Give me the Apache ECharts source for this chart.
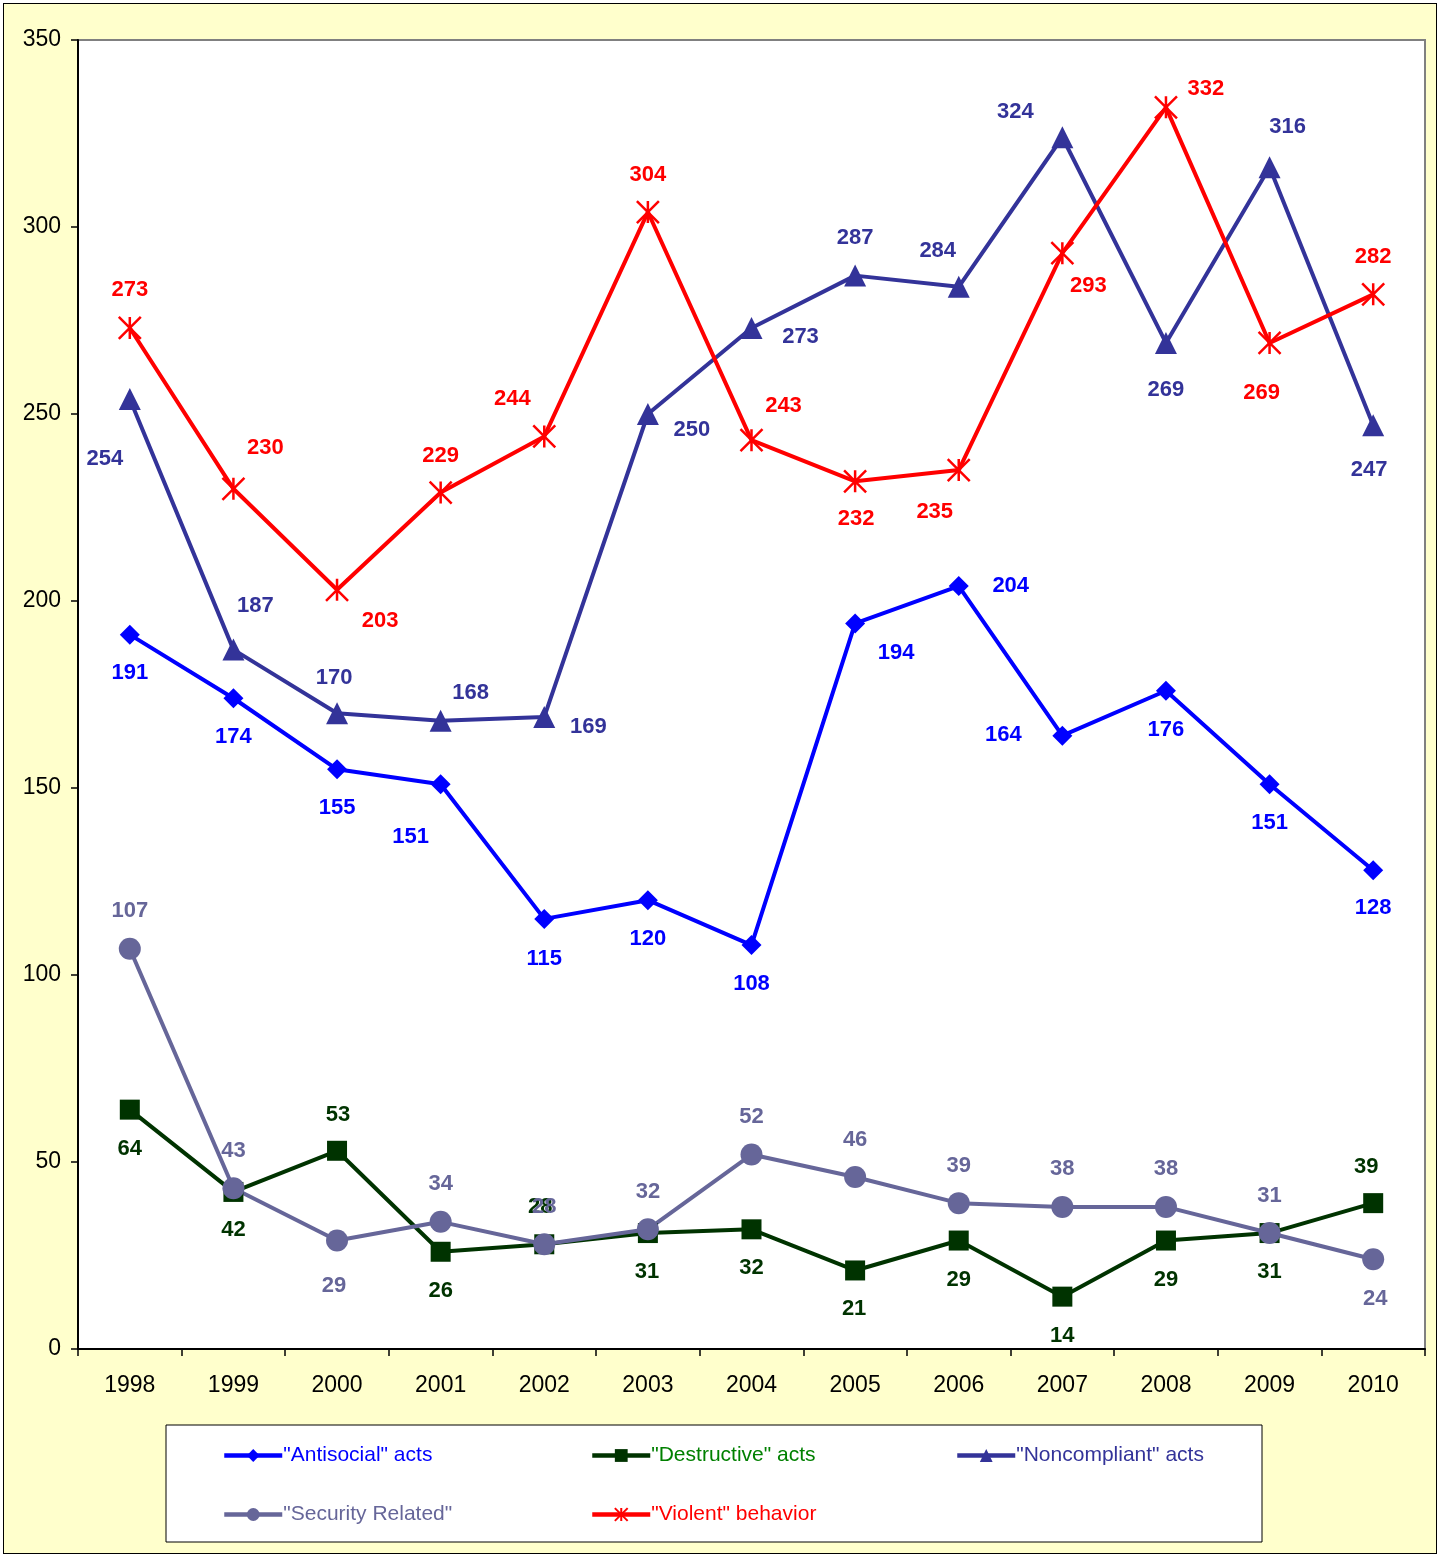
<!DOCTYPE html>
<html>
<head>
<meta charset="utf-8">
<script src="https://cdn.jsdelivr.net/npm/echarts@6/dist/echarts.min.js"></script>
<style>
  html, body { margin: 0; padding: 0; background: #fff; }
  #wrap { position: relative; width: 1442px; height: 1555px; }
  #frame { position: absolute; left: 3px; top: 3px; width: 1432px; height: 1549px; background: #FFFFCC; border: 1px solid #000; }
  #chart { position: absolute; left: 0; top: 0; width: 1442px; height: 1555px; }
</style>
</head>
<body>
<div id="wrap">
  <div id="frame"></div>
  <div id="chart"></div>
</div>
<script>
const years = ['1998', '1999', '2000', '2001', '2002', '2003', '2004', '2005', '2006', '2007', '2008', '2009', '2010'];
const antisocial = [191, 174, 155, 151, 115, 120, 108, 194, 204, 164, 176, 151, 128];
const destructive = [64, 42, 53, 26, 28, 31, 32, 21, 29, 14, 29, 31, 39];
const noncompliant = [254, 187, 170, 168, 169, 250, 273, 287, 284, 324, 269, 316, 247];
const security = [107, 43, 29, 34, 28, 32, 52, 46, 39, 38, 38, 31, 24];
const violent = [273, 230, 203, 229, 244, 304, 243, 232, 235, 293, 332, 269, 282];

// where each value label sits relative to its point (px)
const antisocialOff = [[0,38],[0,39],[0,39],[-30,53],[0,40],[0,39],[0,39],[41,29],[52,0],[-59,-1],[0,39],[0,39],[0,38]];
const destructiveOff = [[0,39],[0,38],[1,-36],[0,39],[-4,-37],[-1,39],[0,39],[-1,38],[0,39],[0,39],[0,39],[0,39],[-7,-36]];
const noncompliantOff = [[-25,60],[22,-44],[-3,-35],[30,-28],[44,10],[44,16],[49,9],[0,-38],[-21,-36],[-47,-25],[0,47],[18,-40],[-4,45]];
const securityOff = [[0,-38],[0,-37],[-3,45],[0,-38],[0,-37],[0,-37],[0,-38],[0,-37],[0,-37],[0,-38],[0,-38],[0,-37],[2,40]];
const violentOff = [[0,-38],[32,-41],[43,31],[0,-37],[-32,-38],[0,-37],[32,-34],[1,38],[-24,42],[26,33],[40,-18],[-8,50],[0,-37]];

const font = '"Liberation Sans", Arial, sans-serif';

const withLabels = (values, offsets) => values.map((v, i) => ({ value: v, label: { offset: offsets[i] } }));

const makeSeries = (name, values, offsets, color, symbol, symbolSize, extra = {}) => ({
  name,
  type: 'line',
  data: withLabels(values, offsets),
  symbol,
  symbolSize,
  lineStyle: { color, width: 4 },
  itemStyle: { color },
  label: {
    show: true,
    position: 'inside',
    color,
    fontFamily: font,
    fontWeight: 'bold',
    fontSize: 22,
  },
  emphasis: { disabled: true },
  animation: false,
  ...extra,
});

const chart = echarts.init(document.getElementById('chart'));
chart.setOption({
  backgroundColor: 'transparent',
  textStyle: { fontFamily: font },
  grid: {
    left: 78, top: 40, right: 17, bottom: 206,
    show: true, backgroundColor: '#fff', borderColor: '#808080', borderWidth: 2,
  },
  graphic: [{
    type: 'rect',
    shape: { x: 166, y: 1425, width: 1096, height: 117 },
    style: { fill: '#fff', stroke: '#000', lineWidth: 1 },
    z: -1,
  }],
  legend: [
    { left: 222, data: [
      { name: '"Antisocial" acts', textStyle: { color: '#0000FF' } },
      { name: '"Security Related"', textStyle: { color: '#666699' } },
    ] },
    { left: 590, data: [
      { name: '"Destructive" acts', textStyle: { color: '#008000' } },
      { name: '"Violent" behavior', textStyle: { color: '#FF0000' } },
    ] },
    { left: 955, data: [
      { name: '"Noncompliant" acts', textStyle: { color: '#333399' } },
    ] },
  ].map((l) => ({
    ...l,
    top: 1445,
    padding: 0,
    orient: 'vertical',
    itemGap: 38,
    itemWidth: 58,
    itemHeight: 16,
    lineStyle: { width: 4.5 },
    selectedMode: false,
    textStyle: { fontFamily: font, fontSize: 21, padding: [0, 0, 0, -4] },
  })),
  xAxis: {
    type: 'category',
    data: years,
    boundaryGap: true,
    axisLine: { lineStyle: { color: '#000', width: 2 } },
    axisTick: { show: true, length: 7, lineStyle: { color: '#000', width: 1.5 } },
    axisLabel: { color: '#000', fontSize: 23, fontFamily: font, margin: 25 },
  },
  yAxis: {
    type: 'value',
    min: 0, max: 350, interval: 50,
    axisLine: { show: true, lineStyle: { color: '#000', width: 2 } },
    axisTick: { show: true, length: 7, lineStyle: { color: '#000', width: 1.5 } },
    axisLabel: { color: '#000', fontSize: 23, fontFamily: font, margin: 17 },
    splitLine: { show: false },
  },
  series: [
    makeSeries('"Antisocial" acts', antisocial, antisocialOff, '#0000FF', 'diamond', 20),
    makeSeries('"Destructive" acts', destructive, destructiveOff, '#003300', 'rect', 20),
    makeSeries('"Noncompliant" acts', noncompliant, noncompliantOff, '#333399', 'triangle', 22),
    makeSeries('"Security Related"', security, securityOff, '#666699', 'circle', 22),
    makeSeries('"Violent" behavior', violent, violentOff, '#FF0000', 'path://M0,0 L20,20 M20,0 L0,20 M10,0 L10,20', 22, {
      itemStyle: { color: 'none', borderColor: '#FF0000', borderWidth: 2.5 },
    }),
  ],
});
</script>
</body>
</html>
